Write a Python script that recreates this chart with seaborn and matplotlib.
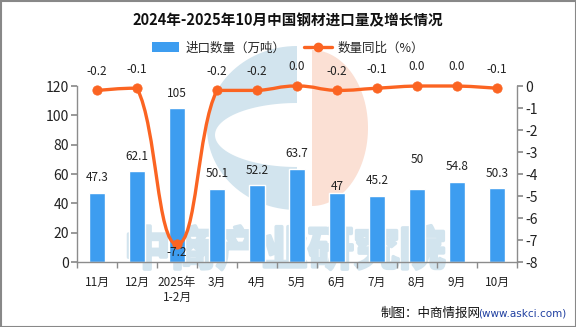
import numpy as np
import pandas as pd
import matplotlib
matplotlib.use("Agg")
import matplotlib.pyplot as plt
from matplotlib.path import Path
from matplotlib.patches import PathPatch, Rectangle
from matplotlib.lines import Line2D
import matplotlib.patheffects as pe
import seaborn as sns

months = ["11月", "12月", "2025年\n1-2月", "3月", "4月", "5月", "6月", "7月", "8月", "9月", "10月"]
import_volume = [47.3, 62.1, 105, 50.1, 52.2, 63.7, 47, 45.2, 50, 54.8, 50.3]
yoy_change = [-0.2, -0.1, -7.2, -0.2, -0.2, 0.0, -0.2, -0.1, 0.0, 0.0, -0.1]
yoy_labels = ["-0.2", "-0.1", "-7.2", "-0.2", "-0.2", "0.0", "-0.2", "-0.1", "0.0", "0.0", "-0.1"]
bar_labels = ["47.3", "62.1", "105", "50.1", "52.2", "63.7", "47", "45.2", "50", "54.8", "50.3"]

sns.set_theme(style="white")
plt.rcParams["font.family"] = ["Noto Sans CJK SC", "DejaVu Sans"]
plt.rcParams["axes.unicode_minus"] = False

BAR = "#3d9df0"
LINE = "#fb6422"
AXC = "#8c8c8c"
WM_BLUE = "#d2e4ee"
WM_RED = "#fbe0d4"

fig = plt.figure(figsize=(5.76, 3.27), dpi=100)

# background watermark axes (pixel coordinates)
bg = fig.add_axes([0, 0, 1, 1], zorder=-5)
bg.set_xlim(0, 576)
bg.set_ylim(327, 0)
bg.axis("off")

def half_ellipse(cx, cy, rx, ry, left=True, num=60):
    t = np.linspace(np.pi / 2, 3 * np.pi / 2, num) if left else np.linspace(-np.pi / 2, np.pi / 2, num)
    return np.column_stack([cx + rx * np.cos(t), cy + ry * np.sin(t)])

outer = half_ellipse(297, 128, 90, 82, left=True)
inner = half_ellipse(297, 135, 82, 32, left=True)[::-1]
verts = np.vstack([outer, outer[:1], inner, inner[:1]])
codes = ([Path.MOVETO] + [Path.LINETO] * (len(outer) - 1) + [Path.CLOSEPOLY]
         + [Path.MOVETO] + [Path.LINETO] * (len(inner) - 1) + [Path.CLOSEPOLY])
bg.add_patch(PathPatch(Path(verts, codes), facecolor=WM_BLUE, edgecolor="none"))
red = half_ellipse(312, 128, 56, 78, left=False)
bg.add_patch(PathPatch(Path(np.vstack([red, red[:1]]),
                            [Path.MOVETO] + [Path.LINETO] * (len(red) - 1) + [Path.CLOSEPOLY]),
                       facecolor=WM_RED, edgecolor="none"))
bg.text(285, 252, "中商产业研究院", ha="center", va="center", fontsize=33,
        color=WM_BLUE, fontweight="bold",
        path_effects=[pe.withStroke(linewidth=2.5, foreground=WM_BLUE)])

ax = fig.add_axes([77/576, 1-262/327, 440/576, 176/327], zorder=1)
df = pd.DataFrame({"month": months, "vol": import_volume})
sns.barplot(data=df, x="month", y="vol", color=BAR, width=0.4, saturation=1, ax=ax, zorder=2)
ax.patch.set_alpha(0)
ax.set_xlim(-0.5, len(months) - 0.5)
ax.set_ylim(0, 120)
ax.set_yticks(range(0, 121, 20))
ax.set_xlabel("")
ax.set_ylabel("")
bar_offsets = [6, 6, 6, 6, 6, 6, 0, 6, 16, 6, 6]
for i, (v, t) in enumerate(zip(import_volume, bar_labels)):
    ax.annotate(t, (i, v), xytext=(0, bar_offsets[i]), textcoords="offset points", ha="center",
                va="bottom", fontsize=8.5, color="#222222", zorder=5)

ax2 = ax.twinx()
ax2.set_ylim(-8, 0)
ax2.set_yticks(range(-8, 1))

# smooth line through points (bezier rendering)
xs = np.arange(len(yoy_change), dtype=float)
ys = np.array(yoy_change, dtype=float)
lverts = [(xs[0], ys[0])]
lcodes = [Path.MOVETO]
n = len(xs)
def cps(i):
    p0 = max(i - 1, 0); p2 = min(i + 1, n - 1)
    return (xs[p2] - xs[p0]) * 0.25, (ys[p2] - ys[p0]) * 0.25
for i in range(n - 1):
    vx, vy = cps(i)
    lo, hi = sorted([ys[i], ys[i + 1]])
    c1 = [xs[i] + vx, min(max(ys[i] + vy, lo), hi)]
    vx2, vy2 = cps(i + 1)
    c2 = [xs[i + 1] - vx2, min(max(ys[i + 1] - vy2, lo), hi)]
    lverts += [tuple(c1), tuple(c2), (xs[i + 1], ys[i + 1])]
    lcodes += [Path.CURVE4, Path.CURVE4, Path.CURVE4]
ax2.add_patch(PathPatch(Path(lverts, lcodes), facecolor="none", edgecolor=LINE, lw=2.4, zorder=3,
                        clip_on=False))
ldf = pd.DataFrame({"x": xs, "y": ys})
sns.scatterplot(data=ldf, x="x", y="y", color=LINE, s=45, edgecolor=LINE, ax=ax2, zorder=4,
                clip_on=False)
ax2.set_xlabel("")
ax2.set_ylabel("")
ax2.set_xlim(-0.5, len(months) - 0.5)

line_offsets = [9, 9, -6, 9, 9, 9, 9, 9, 9, 9, 9]
for i, (v, t) in enumerate(zip(yoy_change, yoy_labels)):
    off = line_offsets[i]
    ax2.annotate(t, (i, v), xytext=(0, off), textcoords="offset points", ha="center",
                 va="center" if off < 0 else "bottom", fontsize=8.5, color="#222222", zorder=5)

for a in (ax, ax2):
    for s in a.spines.values():
        s.set_visible(False)
ax.spines["left"].set_visible(True)
ax.spines["bottom"].set_visible(True)
ax2.spines["right"].set_visible(True)
for s in (ax.spines["left"], ax.spines["bottom"], ax2.spines["right"]):
    s.set_color(AXC)
    s.set_linewidth(1)

ax.tick_params(axis="y", which="both", left=True, length=4, color=AXC, labelsize=10,
               labelcolor="#222222", pad=2)
ax2.tick_params(axis="y", right=True, length=4, color=AXC, labelsize=10,
                labelcolor="#222222", pad=2)
ax.set_xticks(range(len(months)))
ax.set_xticklabels(months, fontsize=8.5, color="#222222", linespacing=1.2)
ax.set_xticks(np.arange(-0.5, len(months), 1), minor=True)
ax.tick_params(axis="x", which="major", bottom=False, pad=4)
ax.tick_params(axis="x", which="minor", bottom=True, length=4, color=AXC)
ax2.set_yticklabels([str(v) for v in range(-8, 1)])

fig.text(0.5, 1-20/327, "2024年-2025年10月中国钢材进口量及增长情况", ha="center", va="center",
         fontsize=10.5, fontweight="bold", color="#111111")

handles = [Rectangle((0, 0), 1, 1, facecolor=BAR, edgecolor="none"),
           Line2D([0], [0], color=LINE, lw=2.4, marker="o", markersize=6)]
fig.legend(handles, ["进口数量（万吨）", "数量同比（%）"], loc="center", ncol=2,
           bbox_to_anchor=(0.5, 1-48/327), frameon=False, fontsize=9, handlelength=2.2,
           handleheight=0.8, columnspacing=1.5, handletextpad=0.5)

fig.text(481/576, 1-313/327, "制图：中商情报网", ha="right", va="center",
         fontsize=9, color="#111111")
fig.text(566/576, 1-313/327, "(www.askci.com)", ha="right", va="center", fontsize=7.5,
         color="#1f3fa0", family=["DejaVu Sans"])

fig.patches.append(Rectangle((0.5, 0.5), 575, 326, transform=None, facecolor="none",
                             edgecolor="#888888", lw=1.5, zorder=10))

fig.savefig("out.png", dpi=100)
